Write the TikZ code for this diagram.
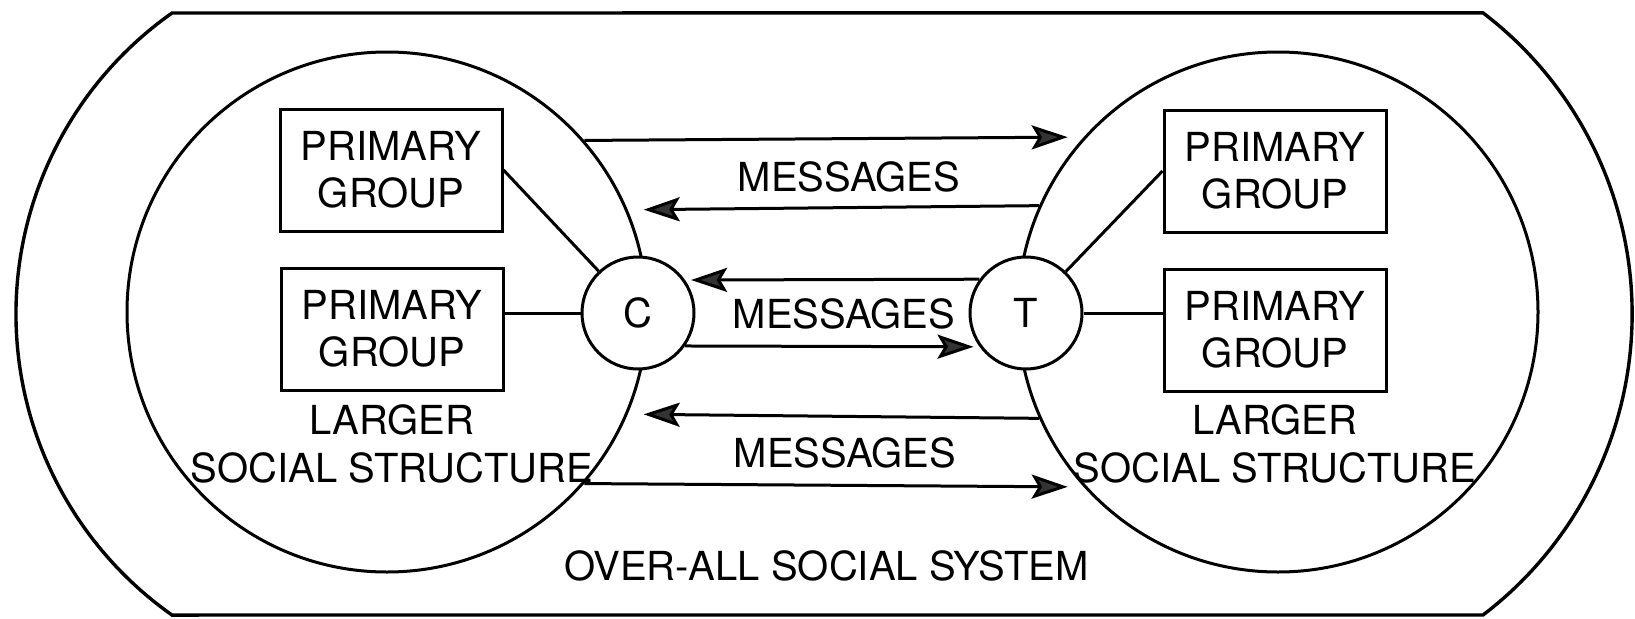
\documentclass[tikz,border=0pt]{standalone}
\usepackage{fontspec}
\setmainfont{TeX Gyre Heros}
\usetikzlibrary{positioning,arrows.meta,calc}

\begin{document}
\begin{tikzpicture}[x=0.5pt,y=0.5pt,line width=1.5pt,
	font=\fontsize{20pt}{23.75pt}\selectfont,
	big/.style={draw,circle,minimum size=260pt,inner sep=0pt},
	actor/.style={draw,circle,fill=white,minimum size=56pt,inner sep=0pt},
	group/.style={draw,rectangle,minimum width=111pt,minimum height=61pt,inner sep=0pt,align=center},
	txt/.style={inner sep=0pt,align=center},
	msg/.style={-{Stealth[length=18pt,width=12pt,inset=3.5pt,fill=black!80]},shorten >=8pt}]
				\useasboundingbox (0,0) rectangle (1635,618);
				\draw[line width=1.7pt] (172,605) arc[start angle=125.2,end angle=234.8,radius=368.4] -- (1483,3) arc[start angle=-52.7,end angle=52.7,radius=378.5] -- cycle;
				\node[big] (ls) at (387,306) {};
				\node[big] (rs) at (1278,306) {};
				\node[actor] (c) at (638,305) {C};
				\node[actor] (t) at (1026,305) {T};
				\node[group] (pg1) at (391,448) {PRIMARY\\GROUP};
				\node[group] (pg2) at (392,289) {PRIMARY\\GROUP};
				\node[group] (pg3) at (1275,447) {PRIMARY\\GROUP};
				\node[group] (pg4) at (1275,288) {PRIMARY\\GROUP};
				\node[txt,below=6pt of pg2] (lsl) {LARGER\\SOCIAL STRUCTURE};
				\node[txt,below=5.5pt of pg4] (rsl) {LARGER\\SOCIAL STRUCTURE};
				\node[txt] (m1) at (849,441.5) {MESSAGES};
				\node[txt] (m2) at (844,304) {MESSAGES};
				\node[txt] (m3) at (845,165.5) {MESSAGES};
				\node[txt] (oss) at (826.5,52.5) {OVER-ALL SOCIAL SYSTEM};
				\draw (pg1.east) -- (c);
				\draw (c) -- (c -| pg2.east);
				\draw (t) -- (pg3.west);
				\draw (t) -- (t -| pg4.west);
				\draw[msg] (ls.41.1) -- (rs.138.9);
				\draw[msg] (rs.156.4) -- (ls.23.6);
				\draw[msg,shorten >=3pt] (t.144.5) -- (c.35.5);
				\draw[msg,shorten >=3pt] (c.-35.5) -- (t.-144.5);
				\draw[msg] (rs.-156.4) -- (ls.-23.6);
				\draw[msg] (ls.-41.1) -- (rs.-138.9);
\end{tikzpicture}
\end{document}
